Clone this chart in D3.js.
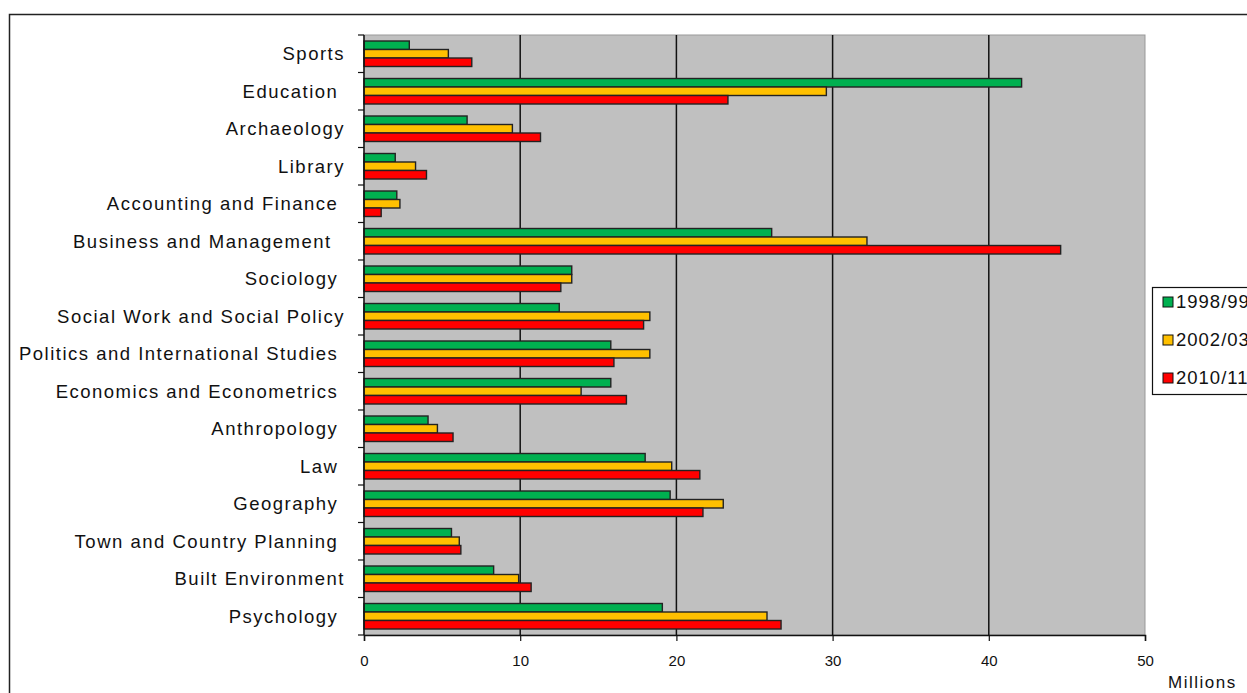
<!DOCTYPE html>
<html>
<head>
<meta charset="utf-8">
<script src="https://cdn.jsdelivr.net/npm/d3@7"></script>
<style>
  body { margin: 0; background: #fff; overflow: hidden; }
  svg text { font-family: "Liberation Sans", Arial, sans-serif; fill: #111; }
</style>
</head>
<body>
<svg id="chart" width="1247" height="693"></svg>
<script>
// data (millions)
const categories = [
  "Sports", "Education ", "Archaeology", "Library", "Accounting and Finance ",
  "Business and Management  ", "Sociology ", "Social Work and Social Policy",
  "Politics and International Studies ", "Economics and Econometrics ",
  "Anthropology ", "Law ", "Geography ", "Town and Country Planning ",
  "Built Environment", "Psychology "
];
const seriesNames = ["1998/99", "2002/03", "2010/11"];
const values9899 = [2.9, 42.1, 6.6, 2.0, 2.1, 26.1, 13.3, 12.5, 15.8, 15.8, 4.1, 18.0, 19.6, 5.6, 8.3, 19.1];
const values0203 = [5.4, 29.6, 9.5, 3.3, 2.3, 32.2, 13.3, 18.3, 18.3, 13.9, 4.7, 19.7, 23.0, 6.1, 9.9, 25.8];
const values1011 = [6.9, 23.3, 11.3, 4.0, 1.1, 44.6, 12.6, 17.9, 16.0, 16.8, 5.7, 21.5, 21.7, 6.2, 10.7, 26.7];
const xTicks = [0, 10, 20, 30, 40, 50];
const colors = ["#00b050", "#ffc000", "#ff0000"];

const allSeries = [values9899, values0203, values1011];

const pLeft = 364, pRight = 1145, pTop = 35, pBottom = 635;

const svg = d3.select("#chart");

// outer chart border
svg.append("rect")
  .attr("x", 9.5).attr("y", 14.5)
  .attr("width", 1260).attr("height", 700)
  .attr("fill", "none").attr("stroke", "#222").attr("stroke-width", 1.5);

const x = d3.scaleLinear().domain([0, 50]).range([pLeft, pRight]);
const y = d3.scaleBand().domain(categories).range([pTop, pBottom])
  .paddingInner(0.32).paddingOuter(0.16);
const ySub = d3.scaleBand().domain(d3.range(3)).range([0, y.bandwidth()]);

// plot background
svg.append("rect")
  .attr("x", pLeft).attr("y", pTop)
  .attr("width", pRight - pLeft).attr("height", pBottom - pTop)
  .attr("fill", "#c0c0c0").attr("stroke", "#999").attr("stroke-width", 1);

// vertical gridlines
svg.append("g").selectAll("line")
  .data(xTicks.slice(1, -1))
  .join("line")
  .attr("x1", d => x(d)).attr("x2", d => x(d))
  .attr("y1", pTop).attr("y2", pBottom)
  .attr("stroke", "#111").attr("stroke-width", 1.5);

// bars
const groups = svg.append("g").selectAll("g")
  .data(categories)
  .join("g")
  .attr("transform", d => `translate(0,${y(d)})`);

groups.selectAll("rect")
  .data((d, i) => allSeries.map((s, j) => ({ v: s[i], j })))
  .join("rect")
  .attr("x", x(0))
  .attr("y", d => ySub(d.j))
  .attr("width", d => x(d.v) - x(0))
  .attr("height", ySub.bandwidth())
  .attr("fill", d => colors[d.j])
  .attr("stroke", "#222").attr("stroke-width", 1.4);

// y axis
const yAxis = svg.append("g").attr("transform", `translate(${pLeft},0)`);
yAxis.append("line")
  .attr("x1", 0).attr("x2", 0).attr("y1", pTop).attr("y2", pBottom)
  .attr("stroke", "#111").attr("stroke-width", 1.5);
yAxis.selectAll("line.tk")
  .data(d3.range(categories.length + 1))
  .join("line").attr("class", "tk")
  .attr("x1", -6).attr("x2", 0)
  .attr("y1", i => pTop + i * y.step()).attr("y2", i => pTop + i * y.step())
  .attr("stroke", "#111").attr("stroke-width", 1.2);
yAxis.selectAll("text")
  .data(categories)
  .join("text")
  .attr("x", -19)
  .attr("y", d => y(d) + y.bandwidth() / 2)
  .attr("dy", "0.35em")
  .attr("text-anchor", "end")
  .style("white-space", "pre")
  .style("letter-spacing", "1.5px")
  .attr("font-size", 18.5)
  .text(d => d);

// x axis
const xAxis = svg.append("g").attr("transform", `translate(0,${pBottom})`)
  .call(d3.axisBottom(x).tickValues(xTicks).tickSize(6).tickPadding(14).tickFormat(d3.format("d")));
xAxis.select(".domain").attr("stroke", "#111").attr("stroke-width", 1.5);
xAxis.selectAll(".tick line").attr("stroke", "#111").attr("stroke-width", 1.2);
xAxis.selectAll(".tick text").attr("font-size", 15).attr("font-family", "Liberation Sans, Arial, sans-serif").attr("fill", "#111");

svg.append("text")
  .attr("x", 1168).attr("y", 688)
  .attr("font-size", 17)
  .style("letter-spacing", "1.5px")
  .text("Millions");

// legend
const legend = svg.append("g").attr("transform", "translate(1152,287)");
legend.append("rect")
  .attr("x", 0.5).attr("y", 0.5).attr("width", 120).attr("height", 107)
  .attr("fill", "#fff").attr("stroke", "#111").attr("stroke-width", 1.2);
const items = legend.selectAll("g")
  .data(seriesNames)
  .join("g")
  .attr("transform", (d, i) => `translate(0,${15 + i * 38})`);
items.append("rect")
  .attr("x", 11).attr("y", -5).attr("width", 10).attr("height", 10)
  .attr("fill", (d, i) => colors[i]).attr("stroke", "#111").attr("stroke-width", 1);
items.append("text")
  .attr("x", 24).attr("dy", "0.35em")
  .attr("font-size", 18.5)
  .style("letter-spacing", "1px")
  .text(d => d);
</script>
</body>
</html>
